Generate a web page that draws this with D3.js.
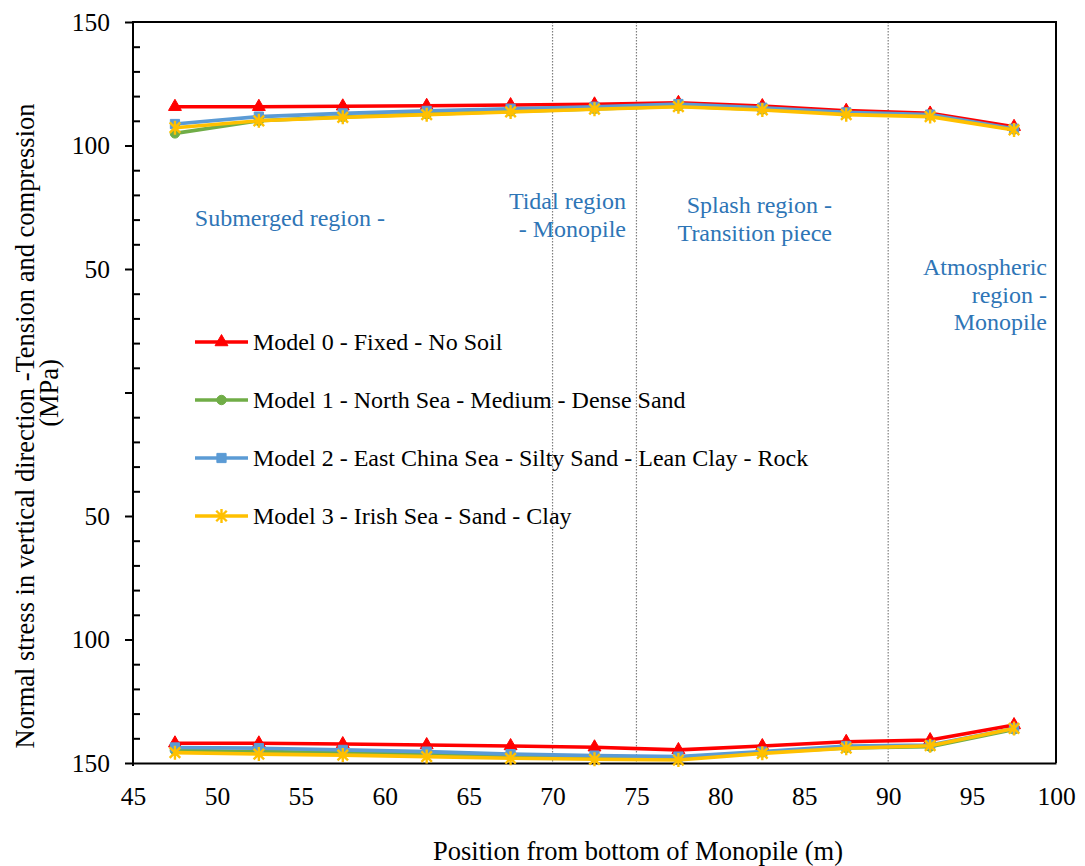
<!DOCTYPE html>
<html>
<head>
<meta charset="utf-8">
<script src="https://cdn.jsdelivr.net/npm/d3@7"></script>
<style>
  body { margin: 0; background: #fff; }
  svg { font-family: "Liberation Serif", "Times New Roman", serif; }
</style>
</head>
<body>
<svg id="chart" width="1085" height="866"></svg>
<script>
// positions along the monopile (m)
const positions = [47.5, 52.5, 57.5, 62.5, 67.5, 72.5, 77.5, 82.5, 87.5, 92.5, 97.5];

// tension (positive) and compression (negative) stress, MPa
const model0Tension = [115.7, 115.7, 115.9, 116.1, 116.4, 116.7, 117.3, 116.0, 114.1, 113.0, 107.6];
const model1Tension = [104.9, 110.0, 111.6, 112.7, 113.8, 114.8, 115.9, 114.6, 113.0, 112.2, 106.5];
const model2Tension = [108.7, 111.7, 113.0, 114.0, 114.9, 115.7, 116.8, 115.3, 113.4, 112.5, 106.8];
const model3Tension = [107.2, 110.0, 111.4, 112.5, 113.6, 114.7, 115.7, 114.4, 112.5, 111.7, 106.3];

const model0Compression = [-142.0, -142.0, -142.3, -142.7, -143.1, -143.6, -144.7, -143.1, -141.4, -140.7, -134.6];
const model1Compression = [-144.9, -145.4, -145.8, -146.3, -147.0, -147.6, -148.0, -145.7, -143.9, -143.4, -136.4];
const model2Compression = [-143.7, -144.0, -144.7, -145.4, -146.4, -147.0, -147.4, -145.4, -143.1, -142.7, -136.0];
const model3Compression = [-145.8, -146.4, -146.8, -147.4, -148.1, -148.5, -148.8, -146.1, -144.0, -143.0, -136.0];

const modelNames = [
    'Model 0 - Fixed - No Soil',
    'Model 1 - North Sea - Medium - Dense Sand',
    'Model 2 - East China Sea - Silty Sand - Lean Clay - Rock',
    'Model 3 - Irish Sea - Sand - Clay'
];
const regionLines = [70, 75, 90];
const xTicks = [45, 50, 55, 60, 65, 70, 75, 80, 85, 90, 95, 100];
const yTicks = [-150, -100, -50, 0, 50, 100, 150];

const colors = ['#ff0000', '#70ad47', '#5b9bd5', '#ffc000'];
const markers = ['triangle', 'circle', 'square', 'star'];

let models = [
    {tension: model0Tension, compression: model0Compression},
    {tension: model1Tension, compression: model1Compression},
    {tension: model2Tension, compression: model2Compression},
    {tension: model3Tension, compression: model3Compression}
].map((m, i) => ({...m, name: modelNames[i], color: colors[i], marker: markers[i]}));

let svg = d3.select('#chart');
let plot = {left: 133, right: 1056, top: 22, bottom: 763};

let xScale = d3.scaleLinear().domain([45, 100]).range([plot.left, plot.right]);
let yScale = d3.scaleLinear().domain([-150, 150]).range([plot.bottom, plot.top]);

// dotted region separators
svg.append('g').selectAll('line').data(regionLines).enter().append('line')
    .attr('x1', d => xScale(d)).attr('x2', d => xScale(d))
    .attr('y1', plot.top).attr('y2', plot.bottom)
    .attr('stroke', '#7f7f7f').attr('stroke-width', 1.2)
    .attr('stroke-dasharray', '1.5,1.5');

// frame (top + right)
svg.append('path')
    .attr('d', `M${plot.left},${plot.top}H${plot.right}V${plot.bottom}`)
    .attr('fill', 'none').attr('stroke', '#000').attr('stroke-width', 2);

// x axis
let xAxis = d3.axisBottom(xScale).tickValues(xTicks).tickSize(0).tickPadding(24);
let gx = svg.append('g').attr('transform', `translate(0,${plot.bottom})`).call(xAxis);
gx.select('.domain').attr('stroke', '#000').attr('stroke-width', 2);
gx.selectAll('text').attr('font-size', '25.5px').attr('fill', '#000')
    .attr('font-family', '"Liberation Serif", "Times New Roman", serif');

// y axis, major ticks outside with absolute value labels (zero hidden)
let yAxis = d3.axisLeft(yScale).tickValues(yTicks).tickSize(8).tickPadding(15)
    .tickFormat(d => d === 0 ? '' : Math.abs(d));
let gy = svg.append('g').attr('transform', `translate(${plot.left},0)`).call(yAxis);
gy.select('.domain').remove();
gy.selectAll('line').attr('stroke', '#000').attr('stroke-width', 2);
gy.selectAll('text').attr('font-size', '25.5px').attr('fill', '#000')
    .attr('font-family', '"Liberation Serif", "Times New Roman", serif');

// minor ticks inside
let minor = d3.range(-150, 151, 10).filter(v => v % 50 !== 0);
let yMinor = d3.axisRight(yScale).tickValues(minor).tickSize(7).tickFormat('');
let gym = svg.append('g').attr('transform', `translate(${plot.left},0)`).call(yMinor);
gym.select('.domain').remove();
gym.selectAll('line').attr('stroke', '#000').attr('stroke-width', 2);

svg.append('line')
    .attr('x1', plot.left).attr('x2', plot.left)
    .attr('y1', plot.top - 1).attr('y2', plot.bottom + 3)
    .attr('stroke', '#000').attr('stroke-width', 2);

// marker shapes
function markerPath(type) {
    if (type === 'star') {
        let p = d3.path(), r = 7, k = r * 0.75;
        p.moveTo(-k, -k); p.lineTo(k, k);
        p.moveTo(-k, k); p.lineTo(k, -k);
        p.moveTo(0, -r); p.lineTo(0, r);
        return p.toString();
    }
    let sym = {triangle: d3.symbolTriangle, circle: d3.symbolCircle, square: d3.symbolSquare}[type];
    let size = {triangle: 72, circle: 70, square: 85}[type];
    return d3.symbol().type(sym).size(size)();
}

function drawMarker(sel, m) {
    sel.append('path')
        .attr('d', markerPath(m.marker))
        .attr('fill', m.marker === 'star' ? 'none' : m.color)
        .attr('stroke', m.color)
        .attr('stroke-width', m.marker === 'star' ? 2.4 : 1);
}

let line = d3.line().x(d => xScale(d.x)).y(d => yScale(d.y));

let series = svg.append('g');
models.forEach(m => {
    [m.tension, m.compression].forEach(values => {
        let pts = positions.map((x, i) => ({x: x, y: values[i]}));
        let g = series.append('g');
        g.append('path').datum(pts)
            .attr('d', line)
            .attr('fill', 'none')
            .attr('stroke', m.color)
            .attr('stroke-width', 3.6)
            .attr('stroke-linejoin', 'round');
        g.selectAll('g.pt').data(pts).enter().append('g')
            .attr('transform', d => `translate(${xScale(d.x)},${yScale(d.y)})`)
            .each(function () { drawMarker(d3.select(this), m); });
    });
});

// legend
let legendY = [342, 400, 458, 516];
let legend = svg.append('g');
models.forEach((m, i) => {
    let g = legend.append('g').attr('transform', `translate(195,${legendY[i]})`);
    g.append('line').attr('x1', 0).attr('x2', 53)
        .attr('stroke', m.color).attr('stroke-width', 3.6);
    let mk = g.append('g').attr('transform', 'translate(26.5,0)');
    drawMarker(mk, m);
    g.append('text').attr('x', 58).attr('dy', '0.35em')
        .attr('font-size', '24px').attr('fill', '#000')
        .text(m.name);
});

// region annotations
let notes = [
    {lines: ['Submerged region -'], x: 385, y: 226},
    {lines: ['Tidal region', '- Monopile'], x: 626, y: 209},
    {lines: ['Splash region -', 'Transition piece'], x: 832, y: 213},
    {lines: ['Atmospheric', 'region -', 'Monopile'], x: 1047, y: 275}
];
notes.forEach(n => {
    let t = svg.append('text').attr('text-anchor', 'end')
        .attr('font-size', '24px').attr('fill', '#2e75b6');
    n.lines.forEach((s, i) => {
        t.append('tspan').attr('x', n.x).attr('y', n.y + i * 27.5).text(s);
    });
});

// axis titles
svg.append('text')
    .attr('transform', 'translate(34,426) rotate(-90)')
    .attr('text-anchor', 'middle').attr('font-size', '26.5px')
    .text('Normal stress in vertical direction -Tension and compression');
svg.append('text')
    .attr('transform', 'translate(58,393) rotate(-90)')
    .attr('text-anchor', 'middle').attr('font-size', '26.5px')
    .text('(MPa)');
svg.append('text')
    .attr('x', 638).attr('y', 860)
    .attr('text-anchor', 'middle').attr('font-size', '26.5px')
    .text('Position from bottom of Monopile (m)');
</script>
</body>
</html>
